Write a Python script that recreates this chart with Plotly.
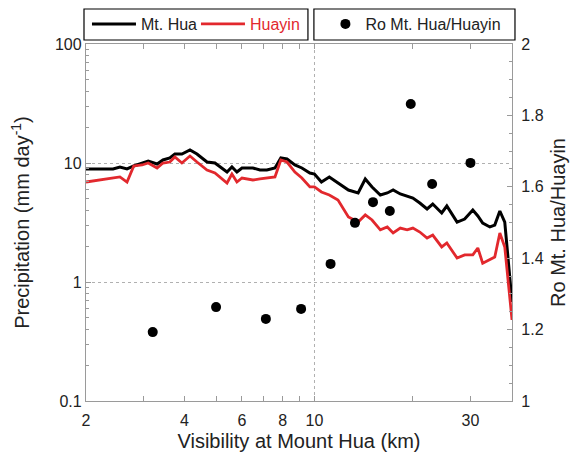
import plotly.graph_objects as go

# ---- data ----
visibility = [2.00, 2.42, 2.54, 2.67, 2.80, 2.97, 3.10, 3.30, 3.44, 3.61, 3.74, 3.93, 4.16, 4.37,
              4.69, 4.96, 5.40, 5.59, 5.79, 6.00, 6.48, 6.81, 7.15, 7.57, 7.89, 8.24, 8.71, 9.15,
              9.68, 10.0, 10.5, 11.1, 11.8, 12.7, 13.6, 14.3, 15.0, 15.9, 16.7, 17.4, 18.3, 19.2,
              20.0, 21.0, 22.1, 23.0, 24.5, 25.4, 27.3, 28.8, 30.5, 31.6, 32.7, 34.4, 35.6, 36.9,
              38.2, 40.2]
mt_hua = [8.91, 8.91, 9.26, 8.91, 9.44, 10.0, 10.39, 9.81, 10.60, 11.02, 11.90, 11.90, 12.86, 11.90,
          10.19, 10.0, 8.40, 9.26, 8.40, 9.08, 9.08, 8.73, 8.73, 9.08, 11.02, 10.80, 9.62, 9.08,
          8.24, 8.08, 6.92, 7.63, 6.79, 5.93, 5.60, 7.34, 6.29, 5.38, 5.60, 5.93, 5.49, 5.28,
          5.08, 4.61, 4.11, 4.52, 3.80, 4.35, 3.19, 3.38, 4.03, 3.59, 3.13, 2.90, 3.01, 3.95,
          3.19, 0.68]
huayin = [6.92, 7.48, 7.63, 6.92, 9.44, 9.62, 10.0, 9.08, 10.0, 10.19, 11.23, 10.0, 11.45, 10.19,
          8.73, 8.24, 6.79, 8.08, 6.92, 7.48, 7.20, 7.34, 7.48, 7.63, 10.60, 10.19, 8.40, 7.48,
          6.29, 6.29, 5.71, 5.38, 4.89, 3.52, 3.19, 3.66, 3.32, 2.74, 2.90, 2.58, 2.84, 2.74,
          2.84, 2.63, 2.34, 2.48, 1.97, 2.13, 1.59, 1.69, 1.69, 1.93, 1.44, 1.56, 1.62, 2.58,
          1.97, 0.48]
ratio_vis = [3.2, 5.0, 7.1, 9.1, 11.2, 13.3, 15.1, 17.0, 19.7, 22.9, 30.0]
ratio = [1.193, 1.263, 1.230, 1.258, 1.384, 1.499, 1.557, 1.532, 1.832, 1.608, 1.667]

x_tickvals = [2, 4, 6, 8, 10, 30]
x_ticktext = ["2", "4", "6", "8", "10", "30"]
x_minorvals = [3, 5, 7, 9, 20, 40]
y_tickvals = [0.1, 1, 10, 100]
y_ticktext = ["0.1", "1", "10", "100"]
y_minorvals = [0.2, 0.3, 0.4, 0.5, 0.6, 0.7, 0.8, 0.9, 2, 3, 4, 5, 6, 7, 8, 9,
               20, 30, 40, 50, 60, 70, 80, 90]
y2_tickvals = [1, 1.2, 1.4, 1.6, 1.8, 2]
y2_ticktext = ["1", "1.2", "1.4", "1.6", "1.8", "2"]

FONT = "Liberation Sans, Arial, sans-serif"
FRAME = "#9a9a9a"
RED = "#e2282d"

fig = go.Figure()
fig.add_trace(go.Scatter(x=visibility, y=mt_hua, mode="lines", name="Mt. Hua",
                         line=dict(color="black", width=3), legend="legend"))
fig.add_trace(go.Scatter(x=visibility, y=huayin, mode="lines",
                         name='<span style="color:%s">Huayin</span>' % RED,
                         line=dict(color=RED, width=2.8), legend="legend"))
fig.add_trace(go.Scatter(x=ratio_vis, y=ratio, mode="markers", name="Ro Mt. Hua/Huayin",
                         marker=dict(color="black", size=10), yaxis="y2", legend="legend2"))

# legend boxes
fig.add_shape(type="rect", xref="paper", yref="paper", x0=-0.0047, x1=0.521, y0=1.0112, y1=1.098,
              line=dict(color="black", width=1.2), fillcolor="rgba(0,0,0,0)")
fig.add_shape(type="rect", xref="paper", yref="paper", x0=0.535, x1=1.007, y0=1.0112, y1=1.098,
              line=dict(color="black", width=1.2), fillcolor="rgba(0,0,0,0)")
# dotted reference line at x=10
fig.add_shape(type="line", xref="x", yref="paper", x0=10, x1=10, y0=0, y1=1,
              line=dict(color="#b0b0b0", width=1, dash="dot"), layer="below")

# the page body adds an 8px offset, so the figure is 8px smaller and margins shifted
fig.update_layout(
    width=571, height=452,
    margin=dict(l=78, r=67, t=36, b=59, autoexpand=False),
    paper_bgcolor="white", plot_bgcolor="white",
    font=dict(family=FONT, size=16, color="#222"),
    legend=dict(orientation="h", x=0.0023, y=1.056, xanchor="left", yanchor="middle",
                bgcolor="rgba(0,0,0,0)", borderwidth=0, font=dict(size=16, color="#222"),
                entrywidth=50, itemwidth=44),
    legend2=dict(orientation="h", x=0.562, y=1.056, xanchor="left", yanchor="middle",
                 bgcolor="rgba(0,0,0,0)", borderwidth=0, font=dict(size=16, color="#222")),
    xaxis=dict(type="log", range=[0.30103, 1.6042], tickvals=x_tickvals, ticktext=x_ticktext,
               ticks="inside", ticklen=5, tickcolor=FRAME, showline=True, linecolor=FRAME,
               linewidth=1.3, mirror="allticks", showgrid=False, zeroline=False,
               tickfont=dict(size=16), ticklabelstandoff=5,
               minor=dict(tickvals=x_minorvals, ticks="inside", ticklen=5, tickcolor=FRAME,
                          showgrid=False),
               title=dict(text="Visibility at Mount Hua (km)", font=dict(size=20), standoff=5)),
    yaxis=dict(type="log", range=[-1, 2], tickvals=y_tickvals, ticktext=y_ticktext,
               ticks="inside", ticklen=5, tickcolor=FRAME, showline=True, linecolor=FRAME,
               linewidth=1.3, showgrid=True, gridcolor="#b0b0b0", griddash="dot", gridwidth=1,
               zeroline=False, tickfont=dict(size=16),
               minor=dict(tickvals=y_minorvals, ticks="inside", ticklen=3, tickcolor=FRAME,
                          showgrid=False),
               title=dict(text="Precipitation (mm day<sup>-1</sup>)", font=dict(size=20), standoff=19)),
    yaxis2=dict(overlaying="y", side="right", range=[1, 2], tickvals=y2_tickvals,
                ticktext=y2_ticktext, ticks="inside", ticklen=5, tickcolor=FRAME,
                showline=True, linecolor=FRAME, linewidth=1.3, showgrid=False, zeroline=False,
                tickfont=dict(size=16), ticklabelstandoff=5,
                minor=dict(dtick=0.05, ticks="inside", ticklen=3, tickcolor=FRAME, showgrid=False),
                title=dict(text="Ro Mt. Hua/Huayin", font=dict(size=20), standoff=8)),
)

fig.write_html("out.html")
